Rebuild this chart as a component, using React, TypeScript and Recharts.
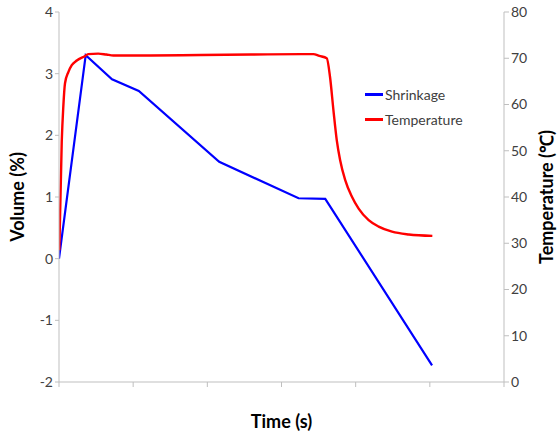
import React from "react";
import { LineChart, Line, XAxis, YAxis } from "recharts";

// time in arbitrary units (axis has no tick labels)
const shrinkTime = [0, 36, 71.5, 107.6, 216, 323, 359, 503];
const shrinkVals = [0, 3.3, 2.91, 2.72, 1.57, 0.98, 0.97, -1.73];

const tempTime = [
  0.4, 3.7, 5.8, 8.1, 12.6, 17.2, 24, 35.3, 39.3, 52.9, 63.8, 73.3, 123.5, 191, 259, 327, 342.9, 351, 361,
  365.4, 370, 374.5, 379, 385.8, 394.8, 404, 417.5, 431, 449, 471.8, 503.4,
];
const tempVals = [
  28.5, 52, 59.5, 64.6, 67, 68.5, 69.5, 70.5, 70.9, 71, 70.8, 70.6, 70.6, 70.7, 70.8, 70.9, 70.9, 70.5, 70.0,
  66.0, 58.8, 52.3, 48.0, 43.7, 40.1, 37.5, 35.0, 33.6, 32.5, 31.9, 31.6,
];

const timeTicks = [0, 100, 200, 300, 400, 500, 600];
const volumeTicks = [-2, -1, 0, 1, 2, 3, 4];
const tempTicks = [0, 10, 20, 30, 40, 50, 60, 70, 80];

const seriesNames = ["Shrinkage", "Temperature"];
const seriesColors = ["#0000ff", "#ff0000"];

const shrinkData = shrinkTime.map((t, i) => ({ t, shrinkage: shrinkVals[i] }));
const tempData = tempTime.map((t, i) => ({ t, temperature: tempVals[i] }));

const FONT = "Lato, 'Open Sans', sans-serif";
const AXIS = "#bfbfbf";
const TEXT = "#404040";

const LegendBox = () => (
  <div
    style={{
      position: "absolute",
      left: 365,
      top: 82,
      fontFamily: FONT,
      fontSize: 14,
      color: TEXT,
      lineHeight: "25px",
    }}
  >
    {seriesNames.map((name, i) => (
      <div key={name} style={{ display: "flex", alignItems: "center" }}>
        <span style={{ width: 18, height: 3, background: seriesColors[i], display: "inline-block", marginRight: 2 }} />
        {name}
      </div>
    ))}
  </div>
);

const App = () => {
  return (
    <div style={{ position: "absolute", left: 0, top: 0, width: 557, height: 432, background: "#fff" }}>
      <LineChart width={557} height={432} margin={{ top: 12, right: 0, left: 0, bottom: 0 }}>
        <XAxis
          type="number"
          dataKey="t"
          domain={[0, 600]}
          ticks={timeTicks}
          tickFormatter={() => ""}
          stroke={AXIS}
          tickSize={5}
          height={50}
          allowDataOverflow
          label={{
            value: "Time (s)",
            position: "insideBottom",
            offset: 4,
            style: { fontFamily: FONT, fontSize: 18, fontWeight: 700, fill: "#000" },
          }}
        />
        <YAxis
          yAxisId="left"
          domain={[-2, 4]}
          ticks={volumeTicks}
          width={59}
          stroke={AXIS}
          tickSize={4}
          tick={{ fill: TEXT, fontSize: 14, fontFamily: FONT }}
          label={{
            value: "Volume (%)",
            angle: -90,
            position: "insideLeft",
            offset: 18,
            style: { fontFamily: FONT, fontSize: 18, fontWeight: 700, fill: "#000", textAnchor: "middle" },
          }}
        />
        <YAxis
          yAxisId="right"
          orientation="right"
          domain={[0, 80]}
          ticks={tempTicks}
          width={53}
          stroke={AXIS}
          tickSize={5}
          tick={{ fill: TEXT, fontSize: 14, fontFamily: FONT }}
          label={{
            value: "Temperature (℃)",
            angle: -90,
            position: "insideRight",
            offset: 10,
            style: { fontFamily: FONT, fontSize: 18, fontWeight: 700, fill: "#000", textAnchor: "middle" },
          }}
        />
        <Line
          yAxisId="left"
          data={shrinkData}
          dataKey="shrinkage"
          name="Shrinkage"
          type="linear"
          stroke="#0000ff"
          strokeWidth={2.2}
          dot={false}
          isAnimationActive={false}
        />
        <Line
          yAxisId="right"
          data={tempData}
          dataKey="temperature"
          name="Temperature"
          type="monotone"
          stroke="#ff0000"
          strokeWidth={2.4}
          dot={false}
          isAnimationActive={false}
        />
      </LineChart>
      <LegendBox />
    </div>
  );
};

export default App;
